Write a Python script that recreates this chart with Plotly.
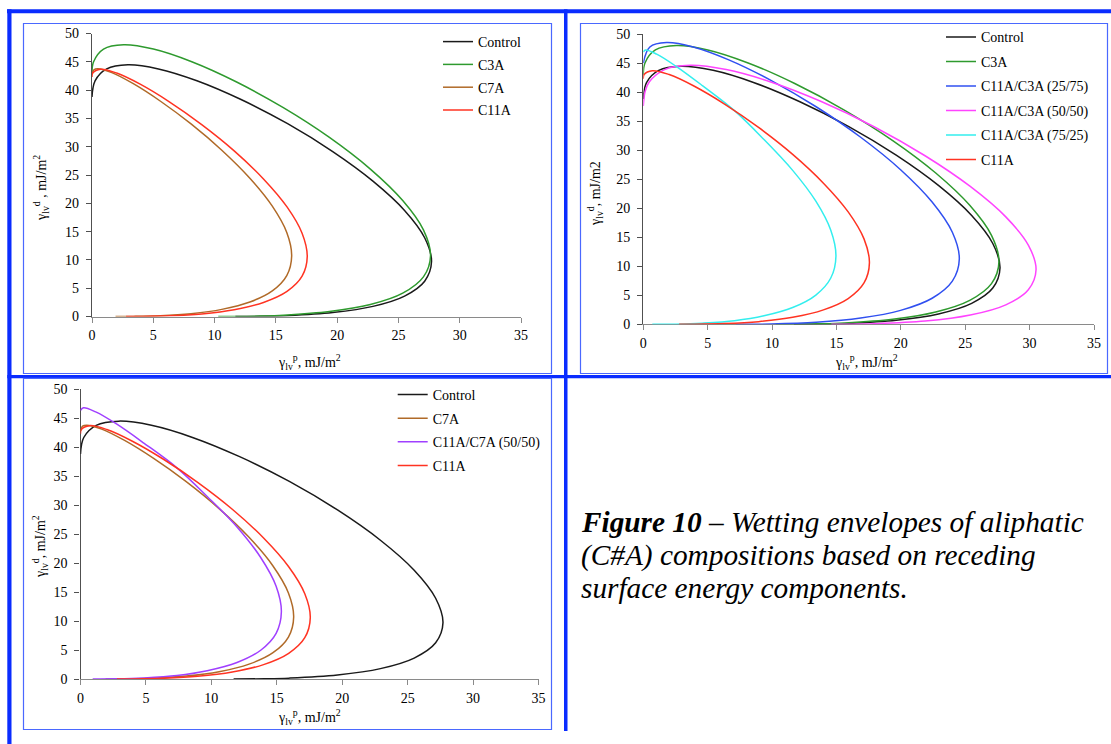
import plotly.graph_objects as go

W, H = 1111, 744
SERIF = "Liberation Serif, Times New Roman, serif"

# ---- wetting envelope data (gamma_lv^p, gamma_lv^d), mJ/m^2 ----
control_x = [0, 0.25, 1.20, 2.93, 5.42, 8.56, 12.16, 15.96, 19.64, 22.92, 25.50, 27.14, 27.70,
             27.14, 25.50, 22.92, 19.64, 15.96, 14.05, 11.70]
control_y = [38.8, 41.64, 43.74, 44.46, 43.74, 41.65, 38.33, 34.06, 29.14, 23.92, 18.75, 13.92, 9.70,
             6.24, 3.61, 1.79, 0.69, 0.15, 0.04, 0]

c3a_x = [0, 0.13, 0.94, 2.58, 5.01, 8.14, 11.76, 15.61, 19.37, 22.71, 25.35, 27.04, 27.62,
         27.04, 25.35, 22.71, 19.37, 15.61, 13.68, 11.76, 10.30]
c3a_y = [43.0, 45.01, 47.25, 48.01, 47.25, 45.01, 41.47, 36.90, 31.64, 26.05, 20.49, 15.31, 10.75,
         7.00, 4.12, 2.11, 0.87, 0.23, 0.08, 0.01, 0]

c7a_x = [0, 0.16, 0.48, 1.62, 3.37, 5.59, 8.08, 10.59, 12.88, 14.71, 15.89, 16.29,
         15.89, 14.71, 12.88, 10.59, 8.08, 5.59, 3.37, 1.92]
c7a_y = [42.8, 43.59, 43.76, 43.09, 41.13, 38.03, 34.02, 29.38, 24.43, 19.49, 14.84, 10.70,
         7.24, 4.53, 2.56, 1.26, 0.50, 0.14, 0.02, 0]

c11a_x = [0, 0.06, 0.70, 2.01, 3.93, 6.31, 8.95, 11.60, 13.99, 15.91, 17.14, 17.56,
          17.14, 15.91, 13.99, 11.60, 8.95, 6.31, 3.93, 2.78]
c11a_y = [42.3, 43.01, 43.68, 43.01, 41.04, 37.93, 33.91, 29.27, 24.31, 19.36, 14.71, 10.58,
          7.12, 4.43, 2.48, 1.20, 0.46, 0.12, 0.01, 0]

c11a_c3a_25_x = [0, 0.51, 1.80, 3.88, 6.64, 9.91, 13.42, 16.88, 19.98, 22.43, 24.00, 24.54,
                 24.00, 22.43, 19.98, 16.88, 13.42, 9.91, 7.20]
c11a_c3a_25_y = [45.0, 47.77, 48.53, 47.77, 45.55, 42.02, 37.47, 32.22, 26.63, 21.06, 15.85, 11.25,
                 7.44, 4.49, 2.40, 1.07, 0.34, 0.05, 0]

c11a_c3a_50_x = [0, 0.15, 0.46, 1.65, 3.65, 6.44, 9.90, 13.82, 17.92, 21.88, 25.39, 28.15, 29.90, 30.50,
                 29.90, 28.15, 25.39, 21.88, 17.92, 15.86, 14.60]
c11a_c3a_50_y = [37.6, 40.19, 41.74, 43.87, 44.60, 43.87, 41.74, 38.37, 34.03, 29.03, 23.74, 18.50, 13.64, 9.40,
                 5.95, 3.35, 1.59, 0.55, 0.09, 0.01, 0]

c11a_c3a_75_x = [0, 0.18, 1.04, 2.55, 4.59, 7.08, 9.37, 11.60, 13.40, 14.56, 14.96,
                 14.56, 13.40, 11.60, 9.37, 7.08, 4.59, 2.55, 0.70]
c11a_c3a_75_y = [46.9, 47.25, 46.53, 44.43, 41.11, 36.80, 31.83, 26.51, 21.20, 16.19, 11.73,
                 7.98, 5.04, 2.89, 1.46, 0.61, 0.19, 0.03, 0]

c11a_c7a_50_x = [0, 0.23, 1.16, 2.75, 4.84, 7.37, 9.68, 11.96, 13.77, 14.95, 15.35,
                 14.95, 13.77, 11.96, 9.68, 7.37, 4.84, 2.75, 0.93]
c11a_c7a_50_y = [46.3, 46.76, 46.05, 43.97, 40.68, 36.41, 31.48, 26.22, 20.95, 15.99, 11.58,
                 7.87, 4.96, 2.84, 1.42, 0.59, 0.18, 0.03, 0]

x_ticks = [0, 5, 10, 15, 20, 25, 30, 35]
y_ticks = [0, 5, 10, 15, 20, 25, 30, 35, 40, 45, 50]

COL = {
    "Control": "#1a1a1a",
    "C3A": "#2e9a2e",
    "C7A": "#b06a28",
    "C11A": "#ff3322",
    "C11A/C3A (25/75)": "#3050f0",
    "C11A/C3A (50/50)": "#ff44ff",
    "C11A/C3A (75/25)": "#33eeee",
    "C11A/C7A (50/50)": "#a040ff",
}

SERIES = {
    "Control": (control_x, control_y),
    "C3A": (c3a_x, c3a_y),
    "C7A": (c7a_x, c7a_y),
    "C11A": (c11a_x, c11a_y),
    "C11A/C3A (25/75)": (c11a_c3a_25_x, c11a_c3a_25_y),
    "C11A/C3A (50/50)": (c11a_c3a_50_x, c11a_c3a_50_y),
    "C11A/C3A (75/25)": (c11a_c3a_75_x, c11a_c3a_75_y),
    "C11A/C7A (50/50)": (c11a_c7a_50_x, c11a_c7a_50_y),
}

panel_series = [
    ["Control", "C3A", "C7A", "C11A"],
    ["Control", "C3A", "C11A/C3A (25/75)", "C11A/C3A (50/50)", "C11A/C3A (75/25)", "C11A"],
    ["Control", "C7A", "C11A/C7A (50/50)", "C11A"],
]


def px(x):
    return x / W


def py(y):
    return 1 - y / H


# plot-area pixel boxes: (left, right, top, bottom)
boxes = [
    (92, 521, 33.5, 316.5),
    (643.3, 1094, 34, 324.3),
    (80.5, 538.5, 389, 679),
]

fig = go.Figure()
legend_names = ["legend", "legend2", "legend3"]

for i, names in enumerate(panel_series):
    xa = "x" if i == 0 else f"x{i + 1}"
    ya = "y" if i == 0 else f"y{i + 1}"
    for name in names:
        xs, ys = SERIES[name]
        fig.add_trace(go.Scatter(
            x=xs, y=ys, mode="lines", name=name,
            line=dict(color=COL[name], width=1.5, shape="spline", smoothing=1.0),
            xaxis=xa, yaxis=ya, legend=legend_names[i],
            legendgroup=f"p{i}-{name}",
            hoverinfo="skip",
        ))

axis_common = dict(
    showgrid=False, zeroline=False, showline=True, ticks="outside", ticklen=5,
    tickfont=dict(family=SERIF, size=14, color="#000000"),
    fixedrange=True, automargin=False, layer="below traces",
)

layout = dict(
    width=W, height=H, autosize=False,
    margin=dict(l=0, r=0, t=0, b=0),
    paper_bgcolor="white", plot_bgcolor="white",
    font=dict(family=SERIF, size=14, color="#000000"),
    showlegend=True,
)

for i, (l, r, t, b) in enumerate(boxes):
    xk = "xaxis" if i == 0 else f"xaxis{i + 1}"
    yk = "yaxis" if i == 0 else f"yaxis{i + 1}"
    xa = "x" if i == 0 else f"x{i + 1}"
    ya = "y" if i == 0 else f"y{i + 1}"
    layout[xk] = dict(axis_common, domain=[px(l), px(r)], range=[0, 35], anchor=ya,
                      tickvals=x_ticks, linecolor="#8a8a8a", tickcolor="#8a8a8a", linewidth=1.3,
                      ticklabelstandoff=1)
    layout[yk] = dict(axis_common, domain=[py(b), py(t)], range=[0, 50], anchor=xa,
                      tickvals=y_ticks, linecolor="#505050", tickcolor="#505050", linewidth=1.3,
                      ticklabelstandoff=4)

fig.update_layout(**layout)

# one legend per panel, placed at the top right of each plot area
legend_cfg = [(438, 26, 1.6), (941, 21.3, 3.3), (392.7, 379, 2.4)]
for name, (lx, ly, gap) in zip(legend_names, legend_cfg):
    fig.update_layout({name: dict(
        x=px(lx), y=py(ly), xanchor="left", yanchor="top",
        bgcolor="rgba(0,0,0,0)", borderwidth=0, tracegroupgap=gap,
        font=dict(family=SERIF, size=14, color="#000000"),
    )})

shapes = []
THICK = "#0a2cff"
THIN = "#4a68ff"


def rect(x0, y0, x1, y1, **kw):
    shapes.append(dict(type="rect", xref="paper", yref="paper",
                       x0=px(x0), x1=px(x1), y0=py(y1), y1=py(y0), **kw))


# heavy page rules
rect(7, 9.3, 1111, 13.3, fillcolor=THICK, line=dict(width=0))
rect(7.3, 9.3, 11.5, 744, fillcolor=THICK, line=dict(width=0))
rect(564, 9.3, 567.5, 731, fillcolor=THICK, line=dict(width=0))
rect(7.3, 375, 1111, 378.3, fillcolor=THICK, line=dict(width=0))

# thin chart frames
rect(23.5, 23.5, 551.5, 373.5, line=dict(color=THIN, width=1.2))
rect(580.5, 23.5, 1107.5, 373.5, line=dict(color=THIN, width=1.2))
rect(23.5, 378.3, 551.5, 729.5, line=dict(color=THIN, width=1.2))

fig.update_layout(shapes=shapes)

annotations = []
xtitle = "γ<sub>lv</sub><sup>p</sup>, mJ/m<sup>2</sup>"
ytitles = [
    "γ<sub>lv</sub><sup>d</sup> , mJ/m<sup>2</sup>",
    "γ<sub>lv</sub><sup>d</sup>, mJ/m2",
    "γ<sub>lv</sub><sup>d</sup>, mJ/m<sup>2</sup>",
]
xtitle_pos = [(309, 362), (866, 362), (309, 717)]
ytitle_pos = [(41, 188), (595, 194), (40, 547)]
for (tx, ty) in xtitle_pos:
    annotations.append(dict(text=xtitle, x=px(tx), y=py(ty), xref="paper", yref="paper",
                            showarrow=False, xanchor="center", yanchor="middle",
                            font=dict(family=SERIF, size=14, color="#000000")))
for t, (tx, ty) in zip(ytitles, ytitle_pos):
    annotations.append(dict(text=t, x=px(tx), y=py(ty), xref="paper", yref="paper",
                            showarrow=False, xanchor="center", yanchor="middle", textangle=-90,
                            font=dict(family=SERIF, size=14, color="#000000")))

caption = [
    "<b><i>Figure 10</i></b><i> – Wetting envelopes of aliphatic</i>",
    "<i>(C#A) compositions based on receding</i>",
    "<i>surface energy components.</i>",
]
for k, line in enumerate(caption):
    annotations.append(dict(text=line, x=px(579), y=py(522 + 33 * k), xref="paper", yref="paper",
                            showarrow=False, xanchor="left", yanchor="middle",
                            font=dict(family=SERIF, size=29.3, color="#000000")))

fig.update_layout(annotations=annotations)

fig.write_html("out.html")
